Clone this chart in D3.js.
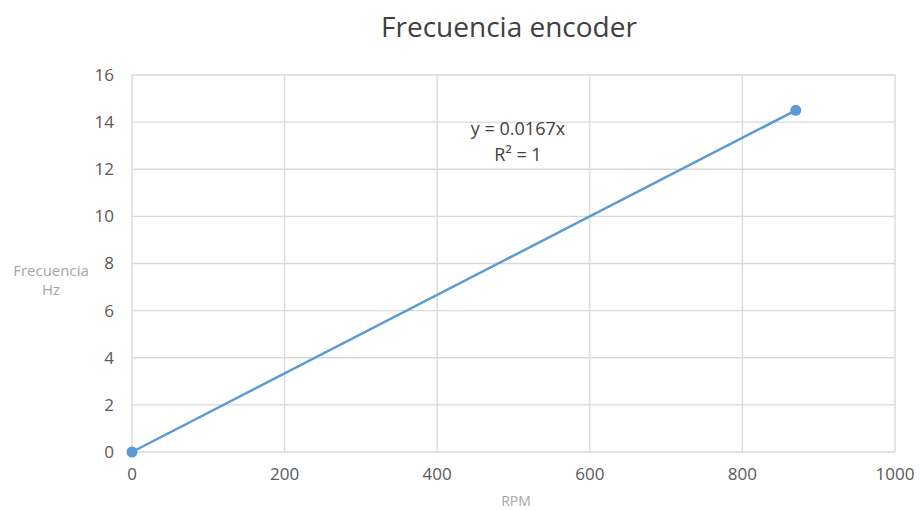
<!DOCTYPE html>
<html><head><meta charset="utf-8">
<script src="https://cdn.jsdelivr.net/npm/d3@7"></script>
<style>body{margin:0;background:#fff}svg{display:block}</style>
</head><body>
<svg id="c" width="920" height="510"></svg>
<script>
const rpm = [0, 870];
const freq = [0, 14.5];
const xTicks = [0, 200, 400, 600, 800, 1000];
const yTicks = [0, 2, 4, 6, 8, 10, 12, 14, 16];
const title = "Frecuencia encoder";
const xTitle = "RPM";
const yTitle = ["Frecuencia", "Hz"];
const trendLabel = ["y = 0.0167x", "R² = 1"];

const svg = d3.select("#c");
const font = "'Open Sans', 'Segoe UI', sans-serif";
const x = d3.scaleLinear().domain([0, 1000]).range([132, 895]);
const y = d3.scaleLinear().domain([0, 16]).range([452, 75]);

// grid
svg.append("g").selectAll("line.h").data(yTicks).join("line")
  .attr("x1", x(0)).attr("x2", x(1000))
  .attr("y1", d => y(d)).attr("y2", d => y(d))
  .attr("stroke", "#d9d9d9").attr("stroke-width", 1.3);
svg.append("g").selectAll("line.v").data(xTicks).join("line")
  .attr("x1", d => x(d)).attr("x2", d => x(d))
  .attr("y1", y(0)).attr("y2", y(16))
  .attr("stroke", "#d9d9d9").attr("stroke-width", 1.3);

// tick labels
svg.append("g").selectAll("text").data(yTicks).join("text")
  .attr("x", 114).attr("y", d => y(d)).attr("dy", "0.35em")
  .attr("text-anchor", "end").attr("font-family", font).attr("font-size", 17)
  .attr("fill", "#595959").text(d => d);
svg.append("g").selectAll("text").data(xTicks).join("text")
  .attr("x", d => x(d)).attr("y", 480)
  .attr("text-anchor", "middle").attr("font-family", font).attr("font-size", 17)
  .attr("fill", "#595959").text(d => d);

// titles
svg.append("text").attr("x", 509).attr("y", 37).attr("text-anchor", "middle")
  .attr("font-family", font).attr("font-size", 28).attr("fill", "#404040").text(title);
svg.append("text").attr("x", 516).attr("y", 506).attr("text-anchor", "middle")
  .attr("font-family", font).attr("font-size", 14).attr("fill", "#a6a6a6").text(xTitle);
svg.append("g").selectAll("text").data(yTitle).join("text")
  .attr("x", 51).attr("y", (d, i) => 276 + i * 19).attr("text-anchor", "middle")
  .attr("font-family", font).attr("font-size", 15).attr("fill", "#a6a6a6").text(d => d);

// series
const pts = rpm.map((r, i) => [r, freq[i]]);
svg.append("path").datum(pts)
  .attr("d", d3.line().x(d => x(d[0])).y(d => y(d[1])))
  .attr("fill", "none").attr("stroke", "#5b9bd5").attr("stroke-width", 2.5);
svg.append("g").selectAll("circle").data(pts).join("circle")
  .attr("cx", d => x(d[0])).attr("cy", d => y(d[1])).attr("r", 5.5)
  .attr("fill", "#5b9bd5");

// trendline label
svg.append("g").selectAll("text").data(trendLabel).join("text")
  .attr("x", 518).attr("y", (d, i) => 135 + i * 26).attr("text-anchor", "middle")
  .attr("font-family", font).attr("font-size", 18).attr("fill", "#404040").text(d => d);
</script>
</body></html>
